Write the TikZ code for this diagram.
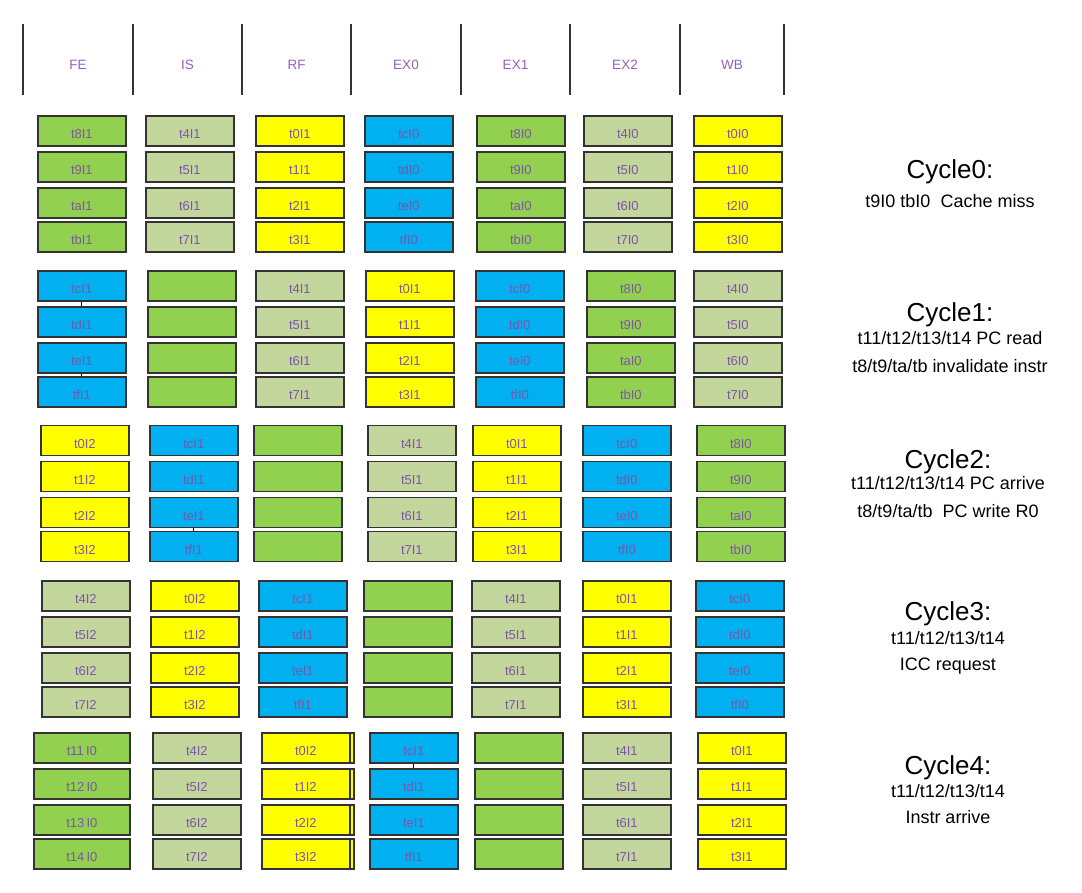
\documentclass[tikz,border=0pt]{standalone}
\usepackage{fontspec}
\setmainfont{Liberation Sans}

\definecolor{grn}{HTML}{92D050}
\definecolor{lgrn}{HTML}{C3D69B}
\definecolor{ylw}{HTML}{FFFF00}
\definecolor{blu}{HTML}{00B0F0}
\definecolor{ptext}{RGB}{125,85,170}
\definecolor{phead}{RGB}{150,95,190}

\begin{document}
\begin{tikzpicture}[x=1pt, y=-1pt,
    slot/.style={draw=black!80, line width=1.7pt, minimum width=88pt, minimum height=30pt,
        inner sep=0pt, anchor=west, text=ptext, font=\fontsize{13}{13}\selectfont,
        text height=15.5pt, text depth=0pt},
    stage/.style={text=phead, font=\fontsize{13.5}{13.5}\selectfont},
    cyctitle/.style={anchor=base, font=\fontsize{26}{26}\selectfont},
    cycnote/.style={anchor=base, font=\fontsize{18}{18}\selectfont}]
    \useasboundingbox (0,0) rectangle (1082,892);

    % stage header
    \foreach \x in {23,133,242,351,461,570,680,784}
        \draw[line width=2pt, black!80] (\x,24) -- (\x,95);
    \node[stage] (hFE)  at (78,65)    {FE};
    \node[stage] (hIS)  at (187.5,65) {IS};
    \node[stage] (hRF)  at (296.5,65) {RF};
    \node[stage] (hEX0) at (406,65)   {EX0};
    \node[stage] (hEX1) at (515.5,65) {EX1};
    \node[stage] (hEX2) at (625,65)   {EX2};
    \node[stage] (hWB)  at (732,65)   {WB};

    % cycle 0
    \foreach \x/\c/\a/\b/\d/\e [count=\i] in {37/grn/t8I1/t9I1/taI1/tbI1, 145/lgrn/t4I1/t5I1/t6I1/t7I1,
            255/ylw/t0I1/t1I1/t2I1/t3I1, 364/blu/tcI0/tdI0/teI0/tfI0, 476/grn/t8I0/t9I0/taI0/tbI0,
            583/lgrn/t4I0/t5I0/t6I0/t7I0, 693/ylw/t0I0/t1I0/t2I0/t3I0} {
        \node[slot, fill=\c] (c0-\i-1) at (\x,131) {\a};
        \node[slot, fill=\c] (c0-\i-2) at (\x,167) {\b};
        \node[slot, fill=\c] (c0-\i-3) at (\x,203) {\d};
        \node[slot, fill=\c] (c0-\i-4) at (\x,237) {\e};
    }

    % cycle 1
    \foreach \x/\c/\a/\b/\d/\e [count=\i] in {37/blu/tcI1/tdI1/teI1/tfI1, 147/grn/{}/{}/{}/{},
            255/lgrn/t4I1/t5I1/t6I1/t7I1, 365/ylw/t0I1/t1I1/t2I1/t3I1, 475/blu/tcI0/tdI0/teI0/tfI0,
            586/grn/t8I0/t9I0/taI0/tbI0, 693/lgrn/t4I0/t5I0/t6I0/t7I0} {
        \node[slot, fill=\c] (c1-\i-1) at (\x,286) {\a};
        \node[slot, fill=\c] (c1-\i-2) at (\x,322) {\b};
        \node[slot, fill=\c] (c1-\i-3) at (\x,358) {\d};
        \node[slot, fill=\c] (c1-\i-4) at (\x,392) {\e};
    }
    \draw[line width=1pt] (c1-1-1) -- (c1-1-2);
    \draw[line width=1pt] (c1-1-3) -- (c1-1-4);

    % cycle 2
    \foreach \x/\c/\a/\b/\d/\e [count=\i] in {40/ylw/t0I2/t1I2/t2I2/t3I2, 149/blu/tcI1/tdI1/teI1/tfI1,
            253/grn/{}/{}/{}/{}, 367/lgrn/t4I1/t5I1/t6I1/t7I1, 472/ylw/t0I1/t1I1/t2I1/t3I1,
            582/blu/tcI0/tdI0/teI0/tfI0, 696/grn/t8I0/t9I0/taI0/tbI0} {
        \node[slot, fill=\c] (c2-\i-1) at (\x,440.5) {\a};
        \node[slot, fill=\c] (c2-\i-2) at (\x,476.5) {\b};
        \node[slot, fill=\c] (c2-\i-3) at (\x,512.5) {\d};
        \node[slot, fill=\c] (c2-\i-4) at (\x,546.5) {\e};
    }
    \draw[line width=1pt] (c2-2-3) -- (c2-2-4);

    % cycle 3
    \foreach \x/\c/\a/\b/\d/\e [count=\i] in {41/lgrn/t4I2/t5I2/t6I2/t7I2, 150/ylw/t0I2/t1I2/t2I2/t3I2,
            258/blu/tcI1/tdI1/teI1/tfI1, 363/grn/{}/{}/{}/{}, 471/lgrn/t4I1/t5I1/t6I1/t7I1,
            582/ylw/t0I1/t1I1/t2I1/t3I1, 695/blu/tcI0/tdI0/teI0/tfI0} {
        \node[slot, fill=\c] (c3-\i-1) at (\x,596) {\a};
        \node[slot, fill=\c] (c3-\i-2) at (\x,632) {\b};
        \node[slot, fill=\c] (c3-\i-3) at (\x,668) {\d};
        \node[slot, fill=\c] (c3-\i-4) at (\x,702) {\e};
    }

    % cycle 4 (RF has a second box behind)
    \foreach \y [count=\r] in {748,784,820,854}
        \node[slot, fill=ylw, minimum width=92pt] (c4-bk-\r) at (261,\y) {};
    \foreach \x/\w/\c/\a/\b/\d/\e [count=\i] in {33/96/grn/t11\,I0/t12\,I0/t13\,I0/t14\,I0,
            152/88/lgrn/t4I2/t5I2/t6I2/t7I2, 261/88/ylw/t0I2/t1I2/t2I2/t3I2,
            369/88/blu/tcI1/tdI1/teI1/tfI1, 474/88/grn/{}/{}/{}/{},
            582/88/lgrn/t4I1/t5I1/t6I1/t7I1, 697/88/ylw/t0I1/t1I1/t2I1/t3I1} {
        \node[slot, fill=\c, minimum width=\w pt] (c4-\i-1) at (\x,748) {\a};
        \node[slot, fill=\c, minimum width=\w pt] (c4-\i-2) at (\x,784) {\b};
        \node[slot, fill=\c, minimum width=\w pt] (c4-\i-3) at (\x,820) {\d};
        \node[slot, fill=\c, minimum width=\w pt] (c4-\i-4) at (\x,854) {\e};
    }
    \draw[line width=1pt] (c4-4-1) -- (c4-4-2);

    % cycle notes
    \node[cyctitle] (cy0) at (950,178) {Cycle0:};
    \node[cycnote] (cy0a) at (950,207.5) {t9I0 tbI0\ \ Cache miss};

    \node[cyctitle] (cy1) at (950,321) {Cycle1:};
    \node[cycnote] (cy1a) at (950,344.5) {t11/t12/t13/t14 PC read};
    \node[cycnote] (cy1b) at (950,372.5) {t8/t9/ta/tb invalidate instr};

    \node[cyctitle] (cy2) at (948,468) {Cycle2:};
    \node[cycnote] (cy2a) at (948,489.5) {t11/t12/t13/t14 PC arrive};
    \node[cycnote] (cy2b) at (948,517.5) {t8/t9/ta/tb\ \ PC write R0};

    \node[cyctitle] (cy3) at (948,620) {Cycle3:};
    \node[cycnote] (cy3a) at (948,644.5) {t11/t12/t13/t14};
    \node[cycnote] (cy3b) at (948,670.5) {ICC request};

    \node[cyctitle] (cy4) at (948,774) {Cycle4:};
    \node[cycnote] (cy4a) at (948,797.5) {t11/t12/t13/t14};
    \node[cycnote] (cy4b) at (948,823.5) {Instr arrive};
\end{tikzpicture}
\end{document}
